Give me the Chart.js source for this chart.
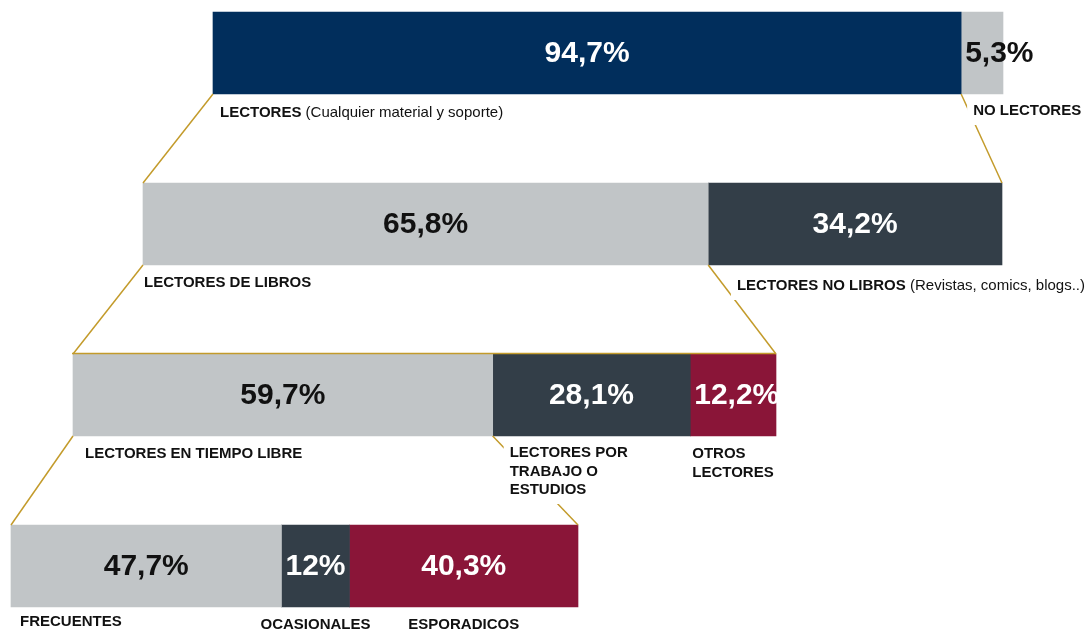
<!DOCTYPE html>
<html lang="es">
<head>
<meta charset="utf-8">
<title>Lectores</title>
<script src="https://cdn.jsdelivr.net/npm/chart.js@4.4.1/dist/chart.umd.min.js"></script>
<style>
  html, body { margin: 0; padding: 0; background: #fff; }
  #grafico { display: block; }
</style>
</head>
<body>
<canvas id="grafico" width="1088" height="629"></canvas>
<script>
// DATOS (porcentajes de cada nivel del embudo)
const filas = ['Población', 'Lectores', 'Lectores de libros', 'Lectores en tiempo libre']

const poblacion = [94.7, 5.3]
const lectores = [65.8, 34.2]
const libros = [59.7, 28.1, 12.2]
const tiempoLibre = [47.7, 12, 40.3]

const nombresPoblacion = ['LECTORES', 'NO LECTORES']
const notasPoblacion = ['(Cualquier material y soporte)', '']
const nombresLectores = ['LECTORES DE LIBROS', 'LECTORES NO LIBROS']
const notasLectores = ['', '(Revistas, comics, blogs..)']
const nombresLibros = ['LECTORES EN TIEMPO LIBRE', 'LECTORES POR\nTRABAJO O\nESTUDIOS', 'OTROS\nLECTORES']
const nombresTiempoLibre = ['FRECUENTES', 'OCASIONALES', 'ESPORADICOS']

// ESTILO Y MAQUETACIÓN
const AZUL = '#012E5C', GRIS = '#C1C5C7', PIZARRA = '#333E48', GRANATE = '#8A1538', ORO = '#C39B2B'
const colores = [[AZUL, GRIS], [GRIS, PIZARRA], [GRIS, PIZARRA, GRANATE], [GRIS, PIZARRA, GRANATE]]
const inicioFila = [213, 143, 73, 11]
const anchoFila = [790, 859, 703, 567]
const lineaSuperior = [false, false, true, false]
const dxNombre = [[7, 12], [1, 47], [12, 17, 2], [9, 'c', 'c']]
const dyNombre = [[19, 17], [18, 21], [18, 17, 18], [15, 18, 18]]
const FUENTE = '"Liberation Sans", Arial, sans-serif'

const valores = [poblacion, lectores, libros, tiempoLibre]
const nombres = [nombresPoblacion, nombresLectores, nombresLibros, nombresTiempoLibre]
const notas = [notasPoblacion, notasLectores, [], []]

// cada tramo es una barra flotante [inicio, fin] sobre el eje x
function tramo(fila, i) {
    const v = valores[fila]
    if (i >= v.length) return null
    let acum = 0
    for (let k = 0; k < i; k++) acum += v[k]
    return [
        inicioFila[fila] + acum / 100 * anchoFila[fila],
        inicioFila[fila] + (acum + v[i]) / 100 * anchoFila[fila]
    ]
}

const datasets = [0, 1, 2].map(i => ({
    label: 'tramo ' + (i + 1),
    data: filas.map((f, r) => tramo(r, i)),
    backgroundColor: colores.map(c => c[i] || 'rgba(0,0,0,0)'),
    borderWidth: 0,
    barThickness: 82,
    grouped: false,
    clip: false
}))

function caja(chart, r, i) {
    const p = chart.getDatasetMeta(i).data[r].getProps(['x', 'base', 'y', 'height'], true)
    return { l: Math.min(p.x, p.base), r: Math.max(p.x, p.base), t: p.y - p.height / 2, b: p.y + p.height / 2, y: p.y }
}

function linea(ctx, x1, y1, x2, y2) {
    ctx.beginPath()
    ctx.moveTo(x1, y1)
    ctx.lineTo(x2, y2)
    ctx.stroke()
}

const embudo = {
    id: 'embudo',
    afterDatasetsDraw(chart) {
        const ctx = chart.ctx
        ctx.save()

        // líneas del embudo
        ctx.strokeStyle = ORO
        ctx.lineWidth = 1.5
        for (let r = 0; r < filas.length - 1; r++) {
            const padre = caja(chart, r, 0)
            const ini = caja(chart, r + 1, 0)
            const fin = caja(chart, r + 1, valores[r + 1].length - 1)
            linea(ctx, padre.l, padre.b, ini.l, ini.t)
            linea(ctx, padre.r, padre.b, fin.r, fin.t)
            if (lineaSuperior[r + 1]) linea(ctx, ini.l - 1, ini.t - 0.5, fin.r, fin.t - 0.5)
        }

        // nombres bajo cada tramo
        ctx.textBaseline = 'middle'
        ctx.textAlign = 'left'
        for (let r = 0; r < filas.length; r++) {
            for (let i = 0; i < valores[r].length; i++) {
                const c = caja(chart, r, i)
                const lineas = nombres[r][i].split('\n')
                const nota = notas[r][i] || ''
                ctx.font = 'bold 15px ' + FUENTE
                let w = Math.max(...lineas.map(t => ctx.measureText(t).width))
                const wNegrita = ctx.measureText(lineas[0]).width
                ctx.font = '15px ' + FUENTE
                const wNota = nota ? ctx.measureText(' ' + nota).width : 0
                w = Math.max(w, wNegrita + wNota)
                const dx = dxNombre[r][i]
                let x = dx === 'c' ? (c.l + c.r) / 2 - w / 2 : c.l + dx
                x = Math.min(x, chart.width - w - 3)
                const y = c.b + dyNombre[r][i]
                if (i > 0) {
                    ctx.fillStyle = '#fff'
                    ctx.fillRect(x - 6, y - 12, w + 10, (lineas.length - 1) * 18.5 + 26)
                }
                ctx.fillStyle = '#111'
                lineas.forEach((t, k) => {
                    ctx.font = 'bold 15px ' + FUENTE
                    ctx.fillText(t, x, y + k * 18.5)
                })
                if (nota) {
                    ctx.font = '15px ' + FUENTE
                    ctx.fillText(' ' + nota, x + wNegrita, y)
                }
            }
        }

        // porcentajes dentro de las barras
        ctx.font = 'bold 30px ' + FUENTE
        for (let r = 0; r < filas.length; r++) {
            valores[r].forEach((v, i) => {
                const c = caja(chart, r, i)
                const texto = String(v).replace('.', ',') + '%'
                const w = ctx.measureText(texto).width
                ctx.fillStyle = colores[r][i] === GRIS ? '#111' : '#fff'
                if (w + 6 > c.r - c.l) {
                    ctx.textAlign = 'left'
                    ctx.fillText(texto, c.l + 4, c.y + 1)
                } else {
                    ctx.textAlign = 'center'
                    ctx.fillText(texto, (c.l + c.r) / 2, c.y + 1)
                }
            })
        }
        ctx.restore()
    }
}

const grafico = new Chart(document.getElementById('grafico').getContext('2d'), {
    type: 'bar',
    data: { labels: filas, datasets },
    options: {
        indexAxis: 'y',
        responsive: false,
        animation: false,
        devicePixelRatio: 1,
        layout: { padding: { top: 53, bottom: 63, left: 0, right: 0 } },
        plugins: { legend: { display: false }, tooltip: { enabled: false } },
        scales: {
            x: { type: 'linear', min: 0, max: 1088, display: false },
            y: { type: 'category', offset: false, display: false }
        }
    },
    plugins: [embudo]
})
</script>
</body>
</html>
